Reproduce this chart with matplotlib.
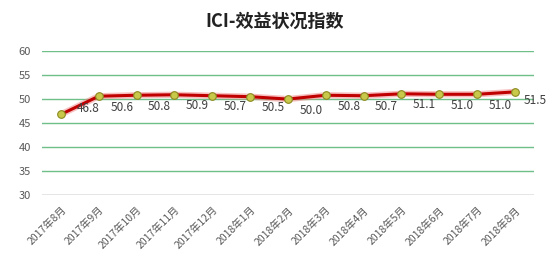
import matplotlib
matplotlib.use("Agg")
import matplotlib.pyplot as plt

plt.rcParams['font.family'] = ['Noto Sans CJK SC', 'DejaVu Sans']

months = ["2017年8月", "2017年9月", "2017年10月", "2017年11月", "2017年12月",
          "2018年1月", "2018年2月", "2018年3月", "2018年4月", "2018年5月",
          "2018年6月", "2018年7月", "2018年8月"]
values = [46.8, 50.6, 50.8, 50.9, 50.7, 50.5, 50.0, 50.8, 50.7, 51.1, 51.0, 51.0, 51.5]
y_ticks = [30, 35, 40, 45, 50, 55, 60]
title = "ICI-效益状况指数"

fig = plt.figure(figsize=(5.52, 2.69), dpi=100)
ax = fig.add_axes([0.076, 0.275, 0.891, 0.535])

x = list(range(len(months)))
ax.set_xlim(-0.5, len(months) - 0.5)
ax.set_ylim(30, 60)
ax.set_yticks(y_ticks)
for t in y_ticks[1:]:
    ax.axhline(t, color='#6fbf88', lw=1.0, zorder=1)
ax.axhline(30, color='#e0e0e0', lw=1.2, zorder=1)

for s in ax.spines.values():
    s.set_visible(False)

ax.plot(x, values, color='#f08080', lw=4.5, alpha=0.5, solid_capstyle='round', zorder=2)
ax.plot(x, values, color='#c00000', lw=2.2, solid_capstyle='round', zorder=3,
        marker='o', markersize=5.5, markerfacecolor='#c8c84a', markeredgecolor='#8a8a20',
        markeredgewidth=0.8)

for i, v in enumerate(values):
    if i == 0:
        off = (27, 6)
    elif i == len(values) - 1:
        off = (20, -9)
    else:
        off = (23, -11)
    ax.annotate(f"{v:.1f}", (i, v), xytext=off, textcoords='offset pixels',
                ha='center', va='center', fontsize=8.5, color='#404040', zorder=4)

ax.set_xticks(x)
ax.set_xticklabels(months, rotation=45, ha='right', rotation_mode='anchor',
                   fontsize=7.5, color='#595959')
ax.tick_params(axis='x', length=0, pad=7)
ax.tick_params(axis='y', length=0, labelsize=8, labelcolor='#595959', pad=8)

fig.text(0.498, 0.922, title, ha='center', va='center', fontsize=13,
         fontweight='bold', color='#222222')

fig.savefig("out.png", dpi=100, facecolor='white')
